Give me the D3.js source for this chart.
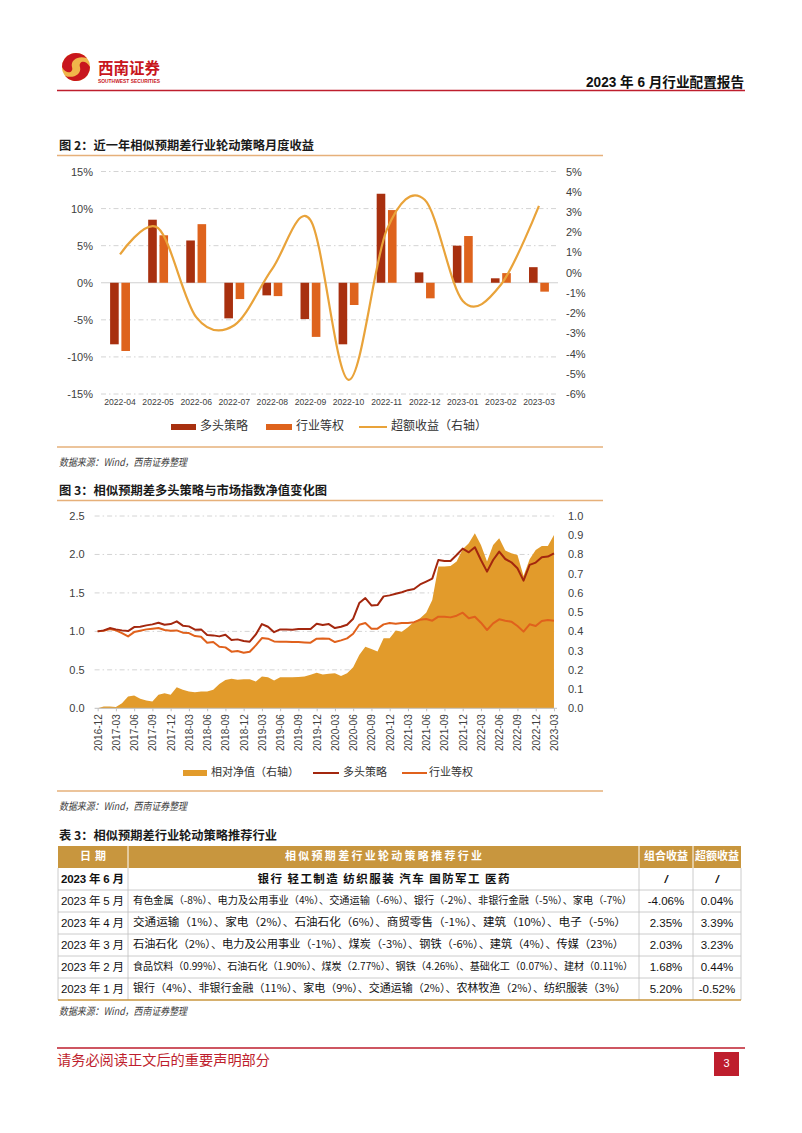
<!DOCTYPE html>
<html><head><meta charset="utf-8">
<script src="https://cdn.jsdelivr.net/npm/d3@7"></script>
<style>
html,body{margin:0;padding:0;background:#fff;}
svg{display:block;}
</style></head><body>
<svg id="page" width="802" height="1133"></svg>
<script>
// ---------------- DATA ----------------
// Figure 2: monthly returns (%)
const months2 = ["2022-04","2022-05","2022-06","2022-07","2022-08","2022-09","2022-10","2022-11","2022-12","2023-01","2023-02","2023-03"];
const longRet   = [-8.3, 8.5, 5.7, -4.8, -1.7, -4.9, -8.3, 12.0, 1.4, 5.0, 0.6, 2.1];
const eqRet     = [-9.2, 6.4, 7.9, -2.2, -1.8, -7.3, -3.0, 9.8, -2.1, 6.3, 1.3, -1.2];
const excessRet = [0.9, 2.2, -2.2, -2.6, 0.2, 2.6, -5.3, 2.1, 3.6, -1.4, -0.6, 3.3];
const leftTicks2  = [15, 10, 5, 0, -5, -10, -15];
const rightTicks2 = [5, 4, 3, 2, 1, 0, -1, -2, -3, -4, -5, -6];
const legend2 = ["多头策略", "行业等权", "超额收益（右轴）"];

// Figure 3: net value, monthly 2016-12 .. 2023-03
const startMonth3 = "2016-12", endMonth3 = "2023-03";
const navLong = [1.00,1.013,1.043,1.026,1.013,1.004,1.056,1.061,1.078,1.091,1.113,1.087,1.095,1.13,1.074,1.065,1.022,1.026,0.952,0.948,0.935,0.957,0.887,0.896,0.874,0.866,0.96,1.095,1.06,0.99,1.026,1.026,1.022,1.03,1.03,1.03,1.10,1.082,1.095,1.043,1.061,1.087,1.165,1.368,1.433,1.338,1.342,1.455,1.468,1.49,1.508,1.536,1.55,1.61,1.647,1.686,1.928,1.915,1.915,1.993,2.076,2.028,2.094,1.928,1.777,1.928,2.037,1.941,1.898,1.82,1.66,1.864,1.894,1.963,1.972,2.015];
const navEq = [1.00,1.009,1.03,1.013,0.978,0.935,0.991,1.009,1.026,1.035,1.043,1.017,1.009,1.013,0.983,0.978,0.939,0.931,0.853,0.861,0.80,0.792,0.736,0.744,0.723,0.736,0.818,0.913,0.905,0.87,0.866,0.866,0.861,0.861,0.857,0.853,0.905,0.909,0.905,0.861,0.883,0.909,0.97,1.087,1.108,1.035,1.035,1.091,1.108,1.10,1.11,1.11,1.12,1.15,1.161,1.139,1.191,1.191,1.182,1.204,1.243,1.17,1.191,1.113,1.018,1.105,1.157,1.139,1.126,1.07,0.997,1.092,1.07,1.135,1.148,1.139];
const navRel = [0.0,0.01,0.01,0.007,0.026,0.061,0.066,0.05,0.04,0.036,0.071,0.078,0.071,0.109,0.097,0.087,0.083,0.087,0.087,0.097,0.127,0.147,0.154,0.149,0.151,0.151,0.139,0.165,0.161,0.144,0.161,0.161,0.161,0.163,0.166,0.175,0.185,0.176,0.18,0.182,0.168,0.182,0.213,0.277,0.32,0.308,0.296,0.364,0.364,0.404,0.398,0.421,0.45,0.468,0.497,0.563,0.737,0.737,0.74,0.763,0.827,0.858,0.91,0.849,0.763,0.849,0.884,0.82,0.806,0.797,0.688,0.775,0.823,0.844,0.844,0.901];
const leftTicks3  = [0, 0.5, 1.0, 1.5, 2.0, 2.5];
const rightTicks3 = [0, 0.1, 0.2, 0.3, 0.4, 0.5, 0.6, 0.7, 0.8, 0.9, 1.0];
const xTickLabels3 = ["2016-12","2017-03","2017-06","2017-09","2017-12","2018-03","2018-06","2018-09","2018-12","2019-03","2019-06","2019-09","2019-12","2020-03","2020-06","2020-09","2020-12","2021-03","2021-06","2021-09","2021-12","2022-03","2022-06","2022-09","2022-12","2023-03"];
const legend3 = ["相对净值（右轴）", "多头策略", "行业等权"];

// Table 3
const tableHeader = ["日期", "相似预期差行业轮动策略推荐行业", "组合收益", "超额收益"];
const tableDates = ["2023 年 6 月","2023 年 5 月","2023 年 4 月","2023 年 3 月","2023 年 2 月","2023 年 1 月"];
const tableIndustries = [
  "银行 轻工制造 纺织服装 汽车 国防军工 医药",
  "有色金属（-8%）、电力及公用事业（4%）、交通运输（-6%）、银行（-2%）、非银行金融（-5%）、家电（-7%）",
  "交通运输（1%）、家电（2%）、石油石化（6%）、商贸零售（-1%）、建筑（10%）、电子（-5%）",
  "石油石化（2%）、电力及公用事业（-1%）、煤炭（-3%）、钢铁（-6%）、建筑（4%）、传媒（23%）",
  "食品饮料（0.99%）、石油石化（1.90%）、煤炭（2.77%）、钢铁（4.26%）、基础化工（0.07%）、建材（0.11%）",
  "银行（4%）、非银行金融（11%）、家电（9%）、交通运输（2%）、农林牧渔（2%）、纺织服装（3%）"
];
const tableReturns = ["/", "-4.06%", "2.35%", "2.03%", "1.68%", "5.20%"];
const tableExcess  = ["/", "0.04%", "3.39%", "3.23%", "0.44%", "-0.52%"];

// ---------------- STYLE / LAYOUT ----------------
const CJK = "'Noto Sans CJK SC', 'Noto Sans', sans-serif";
const LAT = "'Liberation Sans', Arial, 'Noto Sans CJK SC', sans-serif";
const RED = "#BE1E2D";
const TAN = "#E6B07A";
const C_LONG = "#A8300F", C_EQ = "#DE631D", C_EXC = "#E9A33A";
const C_AREA = "#E29B2B", C_L3 = "#A3270E", C_E3 = "#E0611C";
const GRID = "#D4D4D4";
const AXTXT = "#404040";

const svg = d3.select("#page");

function text(x, y, s, o = {}) {
  const t = svg.append("text").attr("x", x).attr("y", y).text(s)
    .attr("font-family", o.family || CJK)
    .attr("font-size", o.size || 12)
    .attr("fill", o.fill || "#1a1a1a");
  if (o.weight) t.attr("font-weight", o.weight);
  if (o.anchor) t.attr("text-anchor", o.anchor);
  if (o.style) t.attr("font-style", o.style);
  if (o.len) t.attr("textLength", o.len).attr("lengthAdjust", o.adj || "spacingAndGlyphs");
  if (o.base) t.attr("dominant-baseline", o.base);
  return t;
}
function hline(x1, x2, y, color, w, dash) {
  const l = svg.append("line").attr("x1", x1).attr("x2", x2).attr("y1", y).attr("y2", y)
    .attr("stroke", color).attr("stroke-width", w);
  if (dash) l.attr("stroke-dasharray", dash);
  return l;
}

// ---------------- PAGE HEADER ----------------
const logo = svg.append("g").attr("transform", "translate(76,67)");
logo.append("circle").attr("r", 14).attr("fill", "#F0B54A");
logo.append("path").attr("d", "M-14,0 A14,14 0 0,1 11,-8.7 C4,-12 -6,-8 -4,0 C-2,6 -10,8 -14,0 Z").attr("fill", "#C8161D");
logo.append("path").attr("d", "M14,0 A14,14 0 0,1 -11,8.7 C-4,12 6,8 4,0 C2,-6 10,-8 14,0 Z").attr("fill", "#C8161D");
text(98, 74, "西南证券", {size: 16, weight: 700, fill: "#C8161D", len: 62, family: CJK});
text(98, 83, "SOUTHWEST SECURITIES", {size: 5, weight: 700, fill: "#C8161D", len: 62, family: LAT});
text(744, 87, "2023 年 6 月行业配置报告", {size: 14, weight: 700, anchor: "end", len: 158, fill: "#111", family: LAT});
hline(57, 745, 90.5, RED, 1.6);

// ---------------- FIGURE 2 ----------------
text(59, 150, "图 2：近一年相似预期差行业轮动策略月度收益", {size: 12, weight: 700, len: 255});
hline(57, 603, 155.5, TAN, 1.5);

const x2 = d3.scaleBand().domain(months2).range([101, 558]);
const y2L = d3.scaleLinear().domain([-15, 15]).range([394, 171.5]);
const y2R = d3.scaleLinear().domain([-6, 5]).range([394, 171.5]);
const g2 = svg.append("g");

// grid
g2.selectAll("line.grid").data(leftTicks2).join("line")
  .attr("x1", 101).attr("x2", 558)
  .attr("y1", d => y2L(d)).attr("y2", d => y2L(d))
  .attr("stroke", d => d === 0 ? "#D0D0D0" : GRID)
  .attr("stroke-width", 1)
  .attr("stroke-dasharray", d => d === 0 ? null : "5,3,1.5,3");

// bars
const bw = x2.bandwidth() * 0.226, gap = x2.bandwidth() * 0.07;
const cx2 = m => x2(m) + x2.bandwidth() / 2;
g2.selectAll("rect.long").data(months2).join("rect")
  .attr("x", (m) => cx2(m) - gap / 2 - bw)
  .attr("width", bw)
  .attr("y", (m, i) => Math.min(y2L(longRet[i]), y2L(0)))
  .attr("height", (m, i) => Math.abs(y2L(longRet[i]) - y2L(0)))
  .attr("fill", C_LONG);
g2.selectAll("rect.eq").data(months2).join("rect")
  .attr("x", (m) => cx2(m) + gap / 2)
  .attr("width", bw)
  .attr("y", (m, i) => Math.min(y2L(eqRet[i]), y2L(0)))
  .attr("height", (m, i) => Math.abs(y2L(eqRet[i]) - y2L(0)))
  .attr("fill", C_EQ);

// excess line
const line2 = d3.line().x((d, i) => cx2(months2[i])).y(d => y2R(d)).curve(d3.curveCardinal.tension(0));
g2.append("path").datum(excessRet).attr("d", line2).attr("fill", "none")
  .attr("stroke", C_EXC).attr("stroke-width", 2.2);

// axes
const axL2 = g2.append("g").attr("transform", "translate(101,0)")
  .call(d3.axisLeft(y2L).tickValues(leftTicks2).tickFormat(d => d + "%").tickSize(0).tickPadding(8));
const axR2 = g2.append("g").attr("transform", "translate(558,0)")
  .call(d3.axisRight(y2R).tickValues(rightTicks2).tickFormat(d => d + "%").tickSize(0).tickPadding(8));
const axB2 = g2.append("g").attr("transform", "translate(0,396)")
  .call(d3.axisBottom(x2).tickSize(0).tickPadding(3));
[axL2, axR2].forEach(a => a.selectAll("text").attr("font-family", LAT).attr("font-size", 11).attr("fill", AXTXT));
axB2.selectAll("text").attr("font-family", LAT).attr("font-size", 8.6).attr("fill", AXTXT);
[axL2, axR2, axB2].forEach(a => a.select(".domain").remove());

// legend
const lg2y = 427;
svg.append("rect").attr("x", 171).attr("y", lg2y - 3).attr("width", 25).attr("height", 6).attr("fill", C_LONG);
text(200, lg2y, legend2[0], {size: 12, base: "middle", fill: "#333"});
svg.append("rect").attr("x", 266).attr("y", lg2y - 3).attr("width", 26).attr("height", 6).attr("fill", C_EQ);
text(296, lg2y, legend2[1], {size: 12, base: "middle", fill: "#333"});
hline(359, 387, lg2y, C_EXC, 2);
text(391, lg2y, legend2[2], {size: 12, base: "middle", fill: "#333"});

hline(57, 603, 447, TAN, 1.5);
text(59, 466, "数据来源：Wind，西南证券整理", {size: 10.5, style: "italic", fill: "#404040", len: 128});

// ---------------- FIGURE 3 ----------------
text(59, 495, "图 3：相似预期差多头策略与市场指数净值变化图", {size: 12, weight: 700, len: 268});
hline(57, 603, 500.5, TAN, 1.5);

const parseM = d3.timeParse("%Y-%m"), fmtM = d3.timeFormat("%Y-%m");
const months3 = d3.timeMonth.range(parseM(startMonth3), d3.timeMonth.offset(parseM(endMonth3), 1)).map(fmtM);
const x3 = d3.scalePoint().domain(months3).range([94.6, 557]).padding(0.5);
const y3L = d3.scaleLinear().domain([0, 2.5]).range([708.3, 516]);
const y3R = d3.scaleLinear().domain([0, 1]).range([708.3, 516]);
const g3 = svg.append("g");

g3.selectAll("line.grid").data(leftTicks3.filter(d => d > 0)).join("line")
  .attr("x1", 94.6).attr("x2", 557)
  .attr("y1", d => y3L(d)).attr("y2", d => y3L(d))
  .attr("stroke", GRID).attr("stroke-width", 1).attr("stroke-dasharray", "5,3,1.5,3");

const area3 = d3.area().x((d, i) => x3(months3[i])).y0(y3R(0)).y1(d => y3R(d));
g3.append("path").datum(navRel).attr("d", area3).attr("fill", C_AREA);

const lineL3 = d3.line().x((d, i) => x3(months3[i])).y(d => y3L(d));
g3.append("path").datum(navEq).attr("d", lineL3).attr("fill", "none").attr("stroke", C_E3).attr("stroke-width", 2).attr("stroke-linejoin", "round");
g3.append("path").datum(navLong).attr("d", lineL3).attr("fill", "none").attr("stroke", C_L3).attr("stroke-width", 2).attr("stroke-linejoin", "round");

// x axis line
hline(94.6, 557, y3L(0), "#BFBFBF", 1);
const axB3 = g3.append("g").attr("transform", `translate(0,${y3L(0)})`)
  .call(d3.axisBottom(x3).tickValues(xTickLabels3).tickSize(3).tickPadding(4));
axB3.select(".domain").remove();
axB3.selectAll(".tick line").attr("stroke", "#BFBFBF");
axB3.selectAll("text").attr("font-family", LAT).attr("font-size", 10).attr("fill", AXTXT)
  .attr("transform", "rotate(-90)").attr("text-anchor", "end")
  .attr("x", -6).attr("y", 0).attr("dy", "0.35em");

const axL3 = g3.append("g").attr("transform", "translate(94.6,0)")
  .call(d3.axisLeft(y3L).tickValues(leftTicks3).tickFormat(d3.format(".1f")).tickSize(0).tickPadding(10));
const axR3 = g3.append("g").attr("transform", "translate(557,0)")
  .call(d3.axisRight(y3R).tickValues(rightTicks3).tickFormat(d3.format(".1f")).tickSize(0).tickPadding(11));
[axL3, axR3].forEach(a => { a.select(".domain").remove(); a.selectAll("text").attr("font-family", LAT).attr("font-size", 11).attr("fill", AXTXT); });

const lg3y = 773;
svg.append("rect").attr("x", 183).attr("y", lg3y - 3).attr("width", 24).attr("height", 6).attr("fill", C_AREA);
text(211, lg3y, legend3[0], {size: 11, base: "middle", fill: "#333"});
hline(313, 339, lg3y, C_L3, 2);
text(343, lg3y, legend3[1], {size: 11, base: "middle", fill: "#333"});
hline(402, 427, lg3y, C_E3, 2);
text(429, lg3y, legend3[2], {size: 11, base: "middle", fill: "#333"});

hline(57, 603, 791, TAN, 1.5);
text(59, 810, "数据来源：Wind，西南证券整理", {size: 10.5, style: "italic", fill: "#404040", len: 128});

// ---------------- TABLE 3 ----------------
text(59, 840, "表 3：相似预期差行业轮动策略推荐行业", {size: 12, weight: 700, len: 218});

const colX = [58, 128, 639, 693, 741];
const tTop = 846, hdrH = 22, rowH = 22;
const GOLD = "#C8963E";
svg.append("rect").attr("x", colX[0]).attr("y", tTop).attr("width", colX[4] - colX[0]).attr("height", hdrH).attr("fill", GOLD);
[1, 2, 3].forEach(k => svg.append("line").attr("x1", colX[k]).attr("x2", colX[k]).attr("y1", tTop).attr("y2", tTop + hdrH).attr("stroke", "#fff").attr("stroke-width", 1));
const hdrY = tTop + hdrH / 2 + 0.5;
const hdrLens = [26, 197, 44, 44];
tableHeader.forEach((h, k) => {
  text((colX[k] + colX[k + 1]) / 2, hdrY, h, {size: 11, weight: 700, fill: "#fff", anchor: "middle", base: "middle", len: hdrLens[k], adj: "spacing"});
});

const indLens = [252, 499, 493, 491, 500, 493];
const indSizes = [11.5, 9.9, 10.8, 10.8, 9.7, 10.8];
tableDates.forEach((d, r) => {
  const y0 = tTop + hdrH + r * rowH;
  const yc = y0 + rowH / 2 + 0.5;
  const bold = r === 0 ? 700 : null;
  text(61, yc, d, {size: 11.5, weight: bold, base: "middle", family: LAT, len: 63, adj: "spacing", fill: "#111"});
  if (r === 0) {
    text((colX[1] + colX[2]) / 2, yc, tableIndustries[r], {size: indSizes[r], weight: 700, anchor: "middle", base: "middle", len: indLens[r], adj: "spacing", fill: "#111"});
  } else {
    text(133, yc, tableIndustries[r], {size: indSizes[r], base: "middle", len: indLens[r], adj: "spacingAndGlyphs", fill: "#111"});
  }
  text((colX[2] + colX[3]) / 2, yc, tableReturns[r], {size: 11.5, anchor: "middle", base: "middle", family: LAT, weight: bold, style: r === 0 ? "italic" : null, fill: "#111"});
  text((colX[3] + colX[4]) / 2, yc, tableExcess[r], {size: 11.5, anchor: "middle", base: "middle", family: LAT, weight: bold, style: r === 0 ? "italic" : null, fill: "#111"});
  const yb = y0 + rowH;
  if (r < tableDates.length - 1) hline(colX[0], colX[4], yb, "#BFBFBF", 0.8);
});
const tBottom = tTop + hdrH + tableDates.length * rowH;
colX.forEach(x => svg.append("line").attr("x1", x).attr("x2", x).attr("y1", tTop + hdrH).attr("y2", tBottom).attr("stroke", "#BFBFBF").attr("stroke-width", 0.8));
hline(colX[0], colX[4], tBottom, GOLD, 1.6);
text(59, 1015, "数据来源：Wind，西南证券整理", {size: 10.5, style: "italic", fill: "#404040", len: 128});

// ---------------- FOOTER ----------------
hline(57, 745, 1048, RED, 1.6);
text(57, 1065, "请务必阅读正文后的重要声明部分", {size: 14, fill: RED, len: 213});
svg.append("rect").attr("x", 714).attr("y", 1052).attr("width", 25).attr("height", 24).attr("fill", RED);
text(726.5, 1064.5, "3", {size: 11, fill: "#fff", anchor: "middle", base: "middle", family: LAT});
</script>
</body></html>
